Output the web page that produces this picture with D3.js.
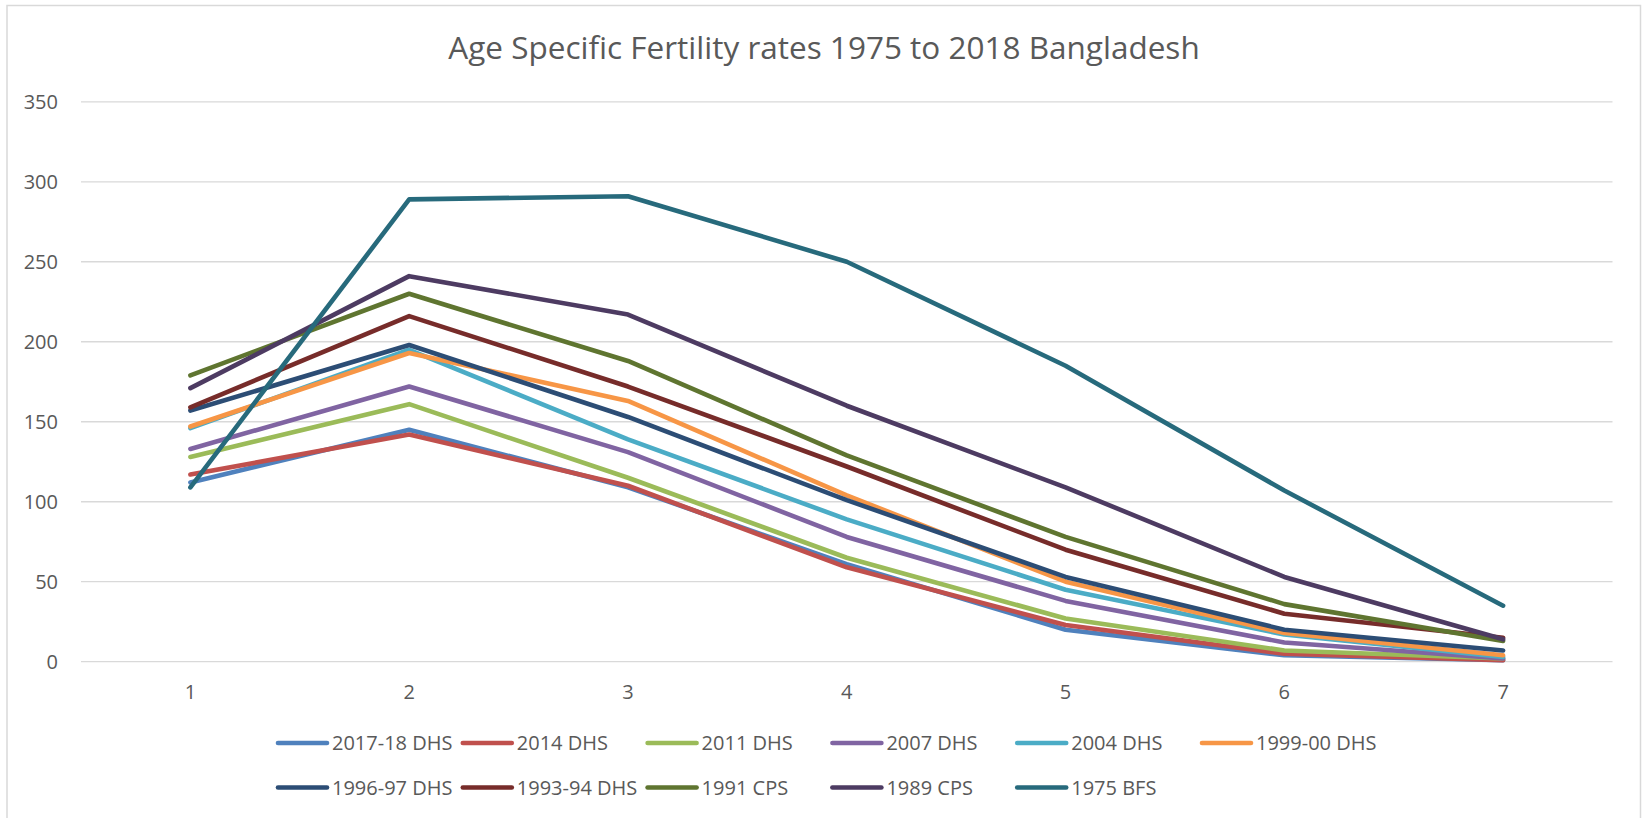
<!DOCTYPE html>
<html>
<head>
<meta charset="utf-8">
<script src="https://cdn.jsdelivr.net/npm/d3@7/dist/d3.min.js"></script>
<style>
  html, body { margin: 0; padding: 0; background: #fff; }
  svg { display: block; }
  text { font-family: "Open Sans", "Liberation Sans", sans-serif; fill: #595959; }
</style>
</head>
<body>
<svg id="chart" width="1645" height="818"></svg>
<script>
// Age groups are numbered 1..7 along the category axis
const categories = [1, 2, 3, 4, 5, 6, 7];

const seriesNames = [
  "2017-18 DHS", "2014 DHS", "2011 DHS", "2007 DHS", "2004 DHS", "1999-00 DHS",
  "1996-97 DHS", "1993-94 DHS", "1991 CPS", "1989 CPS", "1975 BFS"
];

const seriesColors = [
  "#4F81BD", "#C0504D", "#9BBB59", "#8064A2", "#4BACC6", "#F79646",
  "#2C4D75", "#772C2A", "#5F7530", "#4D3B62", "#276A7C"
];

// Births per 1000 women, one array per survey
const s2017 = [112, 145, 109, 61, 20, 4, 1];
const s2014 = [117, 142, 110, 59, 23, 5, 1];
const s2011 = [128, 161, 115, 65, 27, 7, 2];
const s2007 = [133, 172, 131, 78, 38, 12, 2];
const s2004 = [146, 195, 139, 89, 45, 17, 3];
const s1999 = [147, 193, 163, 104, 50, 18, 4];
const s1996 = [157, 198, 153, 101, 53, 20, 7];
const s1993 = [159, 216, 172, 122, 70, 30, 15];
const s1991 = [179, 230, 188, 129, 78, 36, 13];
const s1989 = [171, 241, 217, 160, 109, 53, 14];
const s1975 = [109, 289, 291, 250, 185, 107, 35];

const seriesValues = [s2017, s2014, s2011, s2007, s2004, s1999, s1996, s1993, s1991, s1989, s1975];

const yTicks = [0, 50, 100, 150, 200, 250, 300, 350];
const title = "Age Specific Fertility rates 1975 to 2018 Bangladesh";

const svg = d3.select("#chart");

// outer chart frame
svg.append("path")
  .attr("d", "M7,818 V5.5 H1640.5 V818")
  .attr("fill", "none")
  .attr("stroke", "#d9d9d9")
  .attr("stroke-width", 1.5);

const plot = { left: 81, right: 1612.5, top: 101.8, bottom: 661.7 };

const x = d3.scaleBand()
  .domain(categories)
  .range([plot.left, plot.right])
  .paddingInner(0).paddingOuter(0);

const y = d3.scaleLinear()
  .domain([0, 350])
  .range([plot.bottom, plot.top]);

// horizontal gridlines
svg.append("g")
  .selectAll("line")
  .data(yTicks)
  .join("line")
  .attr("x1", plot.left)
  .attr("x2", plot.right)
  .attr("y1", d => y(d))
  .attr("y2", d => y(d))
  .attr("stroke", "#d9d9d9")
  .attr("stroke-width", 1.3);

// y axis labels
const yAxis = d3.axisLeft(y).tickValues(yTicks).tickSize(0).tickPadding(0);
const yG = svg.append("g").attr("transform", "translate(58,0)").call(yAxis);
yG.select(".domain").remove();
yG.selectAll("text")
  .attr("font-size", 20)
  .attr("dy", "0.35em")
  .style("font-family", "'Open Sans', 'Liberation Sans', sans-serif")
  .attr("fill", "#595959");

// x axis labels
const xAxis = d3.axisBottom(x).tickSize(0).tickPadding(0);
const xG = svg.append("g").attr("transform", "translate(0,692)").call(xAxis);
xG.select(".domain").remove();
xG.selectAll("text")
  .attr("font-size", 20)
  .attr("dy", "0.35em")
  .style("font-family", "'Open Sans', 'Liberation Sans', sans-serif")
  .attr("fill", "#595959");

// series lines
const line = d3.line()
  .x((d, i) => x(categories[i]) + x.bandwidth() / 2)
  .y(d => y(d));

svg.append("g")
  .selectAll("path")
  .data(seriesValues)
  .join("path")
  .attr("d", d => line(d))
  .attr("fill", "none")
  .attr("stroke", (d, i) => seriesColors[i])
  .attr("stroke-width", 4.6)
  .attr("stroke-linejoin", "round")
  .attr("stroke-linecap", "round");

// title
svg.append("text")
  .attr("x", 824)
  .attr("y", 59)
  .attr("text-anchor", "middle")
  .attr("font-size", 31.5)
  .text(title);

// legend: six entries per row
const legend = svg.append("g");
const perRow = 6, colW = 184.8, rowH = 44.5, lx0 = 276, ly0 = 743;
const items = legend.selectAll("g")
  .data(seriesNames)
  .join("g")
  .attr("transform", (d, i) =>
    `translate(${lx0 + (i % perRow) * colW},${ly0 + Math.floor(i / perRow) * rowH})`);

items.append("line")
  .attr("x1", 2).attr("x2", 51)
  .attr("y1", 0).attr("y2", 0)
  .attr("stroke", (d, i) => seriesColors[i])
  .attr("stroke-width", 4.6)
  .attr("stroke-linecap", "round");

items.append("text")
  .attr("x", 56)
  .attr("y", 0)
  .attr("dy", "0.35em")
  .attr("font-size", 20)
  .text(d => d);
</script>
</body>
</html>
